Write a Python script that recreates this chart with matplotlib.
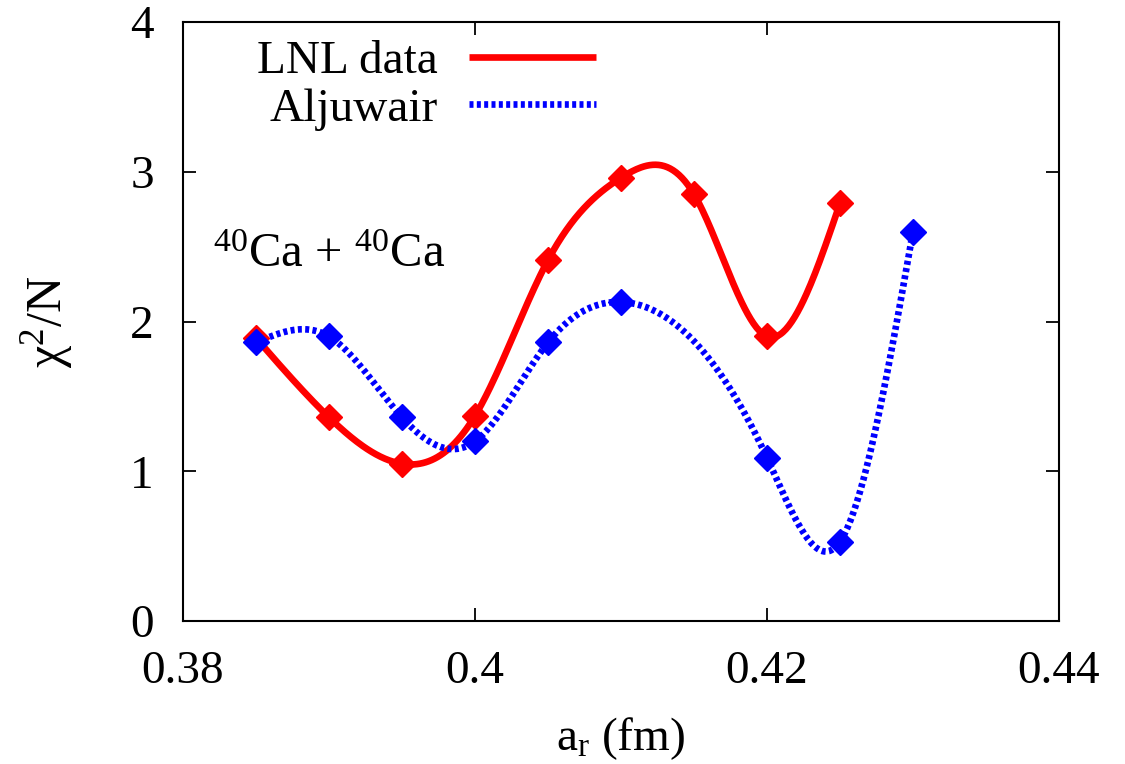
import numpy as np
import matplotlib
matplotlib.use("Agg")
import matplotlib.pyplot as plt

# Data
lnl_x = [0.385, 0.390, 0.395, 0.400, 0.405, 0.410, 0.415, 0.420, 0.425]
lnl_y = [1.89, 1.36, 1.05, 1.37, 2.41, 2.96, 2.85, 1.90, 2.79]
alj_x = [0.385, 0.390, 0.395, 0.400, 0.405, 0.410, 0.420, 0.425, 0.430]
alj_y = [1.86, 1.90, 1.36, 1.20, 1.86, 2.13, 1.09, 0.53, 2.60]
xticks = [0.38, 0.40, 0.42, 0.44]
xticklabels = ["0.38", "0.4", "0.42", "0.44"]
yticks = [0, 1, 2, 3, 4]


def natural_spline(x, y, n=400):
    x = np.asarray(x, float)
    y = np.asarray(y, float)
    m = len(x)
    h = np.diff(x)
    A = np.zeros((m, m))
    b = np.zeros(m)
    A[0, 0] = 1
    A[-1, -1] = 1
    for i in range(1, m - 1):
        A[i, i - 1] = h[i - 1]
        A[i, i] = 2 * (h[i - 1] + h[i])
        A[i, i + 1] = h[i]
        b[i] = 6 * ((y[i + 1] - y[i]) / h[i] - (y[i] - y[i - 1]) / h[i - 1])
    M = np.linalg.solve(A, b)
    xs = np.linspace(x[0], x[-1], n)
    idx = np.clip(np.searchsorted(x, xs) - 1, 0, m - 2)
    x0, x1 = x[idx], x[idx + 1]
    hh = x1 - x0
    t0 = x1 - xs
    t1 = xs - x0
    ys = (M[idx] * t0**3 / (6 * hh) + M[idx + 1] * t1**3 / (6 * hh)
          + (y[idx] / hh - M[idx] * hh / 6) * t0
          + (y[idx + 1] / hh - M[idx + 1] * hh / 6) * t1)
    return xs, ys


plt.rcParams['font.family'] = ['Liberation Serif', 'DejaVu Serif']
plt.rcParams['mathtext.fontset'] = 'custom'
plt.rcParams['mathtext.rm'] = 'Liberation Serif'
plt.rcParams['mathtext.it'] = 'Liberation Serif:italic'
plt.rcParams['mathtext.bf'] = 'Liberation Serif:bold'

W, H = 1125, 764
fig = plt.figure(figsize=(W / 100, H / 100), dpi=100)
ax = fig.add_axes([183 / W, 1 - 621 / H, (1059 - 183) / W, (621 - 22) / H])

fs = 34

xs, ys = natural_spline(lnl_x, lnl_y)
l1, = ax.plot(xs, ys, color='#ff0000', lw=4.8, solid_capstyle='butt', label='LNL data', zorder=3)
ax.plot(lnl_x, lnl_y, ls='none', marker='D', ms=13, color='#ff0000', zorder=4)

xs2, ys2 = natural_spline(alj_x, alj_y)
l2, = ax.plot(xs2, ys2, color='#0000ff', lw=4.8, dashes=(0.6, 0.5), dash_capstyle='butt',
              label='Aljuwair', zorder=3)
ax.plot(alj_x, alj_y, ls='none', marker='D', ms=13, color='#0000ff', zorder=4)

ax.set_xlim(0.38, 0.44)
ax.set_ylim(0, 4)
ax.set_xticks(xticks)
ax.set_xticklabels(xticklabels)
ax.set_yticks(yticks)
ax.tick_params(direction='in', length=9.5, width=1.3, top=True, right=True,
               labelsize=fs, pad=21)
for s in ax.spines.values():
    s.set_linewidth(1.5)

ax.set_xlabel(r'a$_\mathrm{r}$ (fm)', fontsize=fs, labelpad=16)
ax.set_ylabel(r'$\mathrm{\chi}^{2}$/N', fontsize=fs + 2, labelpad=40)

fig.text(213 / W, 1 - 267 / H, r'$^{40}$Ca + $^{40}$Ca', fontsize=fs + 1, va='baseline', ha='left')

leg = ax.legend(handles=[l1, l2], loc='upper right', bbox_to_anchor=(596 / W, 1 - 40 / H),
                bbox_transform=fig.transFigure,
                frameon=False, fontsize=fs, markerfirst=False, handlelength=2.69,
                handletextpad=0.66, labelspacing=0.1, borderaxespad=0.0, borderpad=0.0)
for t in leg.get_texts():
    t.set_ha('right')

fig.savefig('out.png', dpi=100)
